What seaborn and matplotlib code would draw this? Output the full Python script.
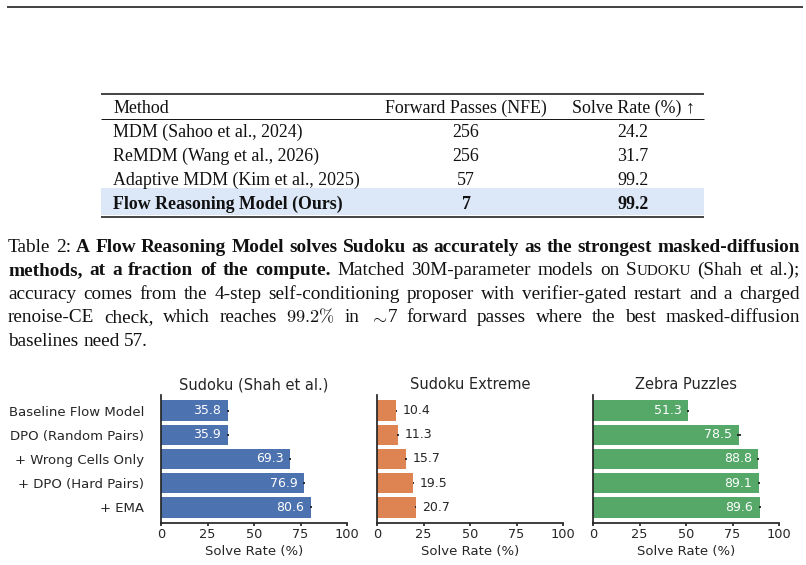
import numpy as np
import pandas as pd
import matplotlib
matplotlib.use("Agg")
import matplotlib.pyplot as plt
import seaborn as sns

# dati della tabella
table_header = ["Method", "Forward Passes (NFE)", "Solve Rate (%) ↑"]
table_methods = ["MDM (Sahoo et al., 2024)", "ReMDM (Wang et al., 2026)",
                 "Adaptive MDM (Kim et al., 2025)", "Flow Reasoning Model (Ours)"]
table_nfe = ["256", "256", "57", "7"]
table_solve = ["24.2", "31.7", "99.2", "99.2"]

# dati dei grafici a barre
variants = ["Baseline Flow Model", "DPO (Random Pairs)", "+ Wrong Cells Only",
            "+ DPO (Hard Pairs)", "+ EMA"]
panel_titles = ["Sudoku (Shah et al.)", "Sudoku Extreme", "Zebra Puzzles"]
sudoku = [35.8, 35.9, 69.3, 76.9, 80.6]
sudoku_extreme = [10.4, 11.3, 15.7, 19.5, 20.7]
zebra = [51.3, 78.5, 88.8, 89.1, 89.6]
sudoku_err = [0.5, 0.5, 0.7, 0.5, 0.6]
sudoku_extreme_err = [0.4, 0.4, 0.4, 0.4, 0.5]
zebra_err = [0.5, 1.0, 0.4, 0.5, 0.5]

# didascalia (una riga per lista, come nel riferimento)
caption_lines = [
    [("Table 2: ", "r"), ("A Flow Reasoning Model solves Sudoku as accurately as the strongest masked-diffusion", "b")],
    [("methods, at a fraction of the compute.", "b"), (" Matched 30M-parameter models on S", "r"),
     ("UDOKU", "sc"), (" (Shah et al.);", "r")],
    [("accuracy comes from the 4-step self-conditioning proposer with verifier-gated restart and a charged", "r")],
    [("renoise-CE check, which reaches ", "r"), (r"$99.2\%$", "m"), (" in ", "r"), (r"$\sim$", "m"),
     ("7 forward passes where the best masked-diffusion", "r")],
    [("baselines need 57.", "r")],
]

sns.set_theme(style="ticks")
plt.rcParams["mathtext.fontset"] = "cm"

fig = plt.figure(figsize=(8.06, 5.65), dpi=100)

# asse di sfondo in pixel per tabella e didascalia
bg = fig.add_axes([0, 0, 1, 1])
bg.set_xlim(0, 806)
bg.set_ylim(565, 0)
bg.axis("off")

serif = ["Liberation Serif", "DejaVu Serif"]
ink = "#111111"

# riga in alto della pagina
bg.plot([7, 803], [7, 7], color="#333333", lw=1.3, solid_capstyle="butt")

# tabella
tfs = 12.9
tx0, tx1 = 101, 704
bg.add_patch(plt.Rectangle((tx0, 187.5), tx1 - tx0, 27, color="#dce8f8", lw=0))
bg.plot([tx0, tx1], [93.5, 93.5], color=ink, lw=1.1, solid_capstyle="butt")
bg.plot([tx0, tx1], [118.7, 118.7], color=ink, lw=0.7, solid_capstyle="butt")
bg.plot([tx0, tx1], [216.5, 216.5], color=ink, lw=1.1, solid_capstyle="butt")

col_x = [113, 466, 633]
bg.text(col_x[0], 113, table_header[0], family=serif, size=tfs, color=ink, ha="left", va="baseline")
bg.text(col_x[1], 113, table_header[1], family=serif, size=tfs, color=ink, ha="center", va="baseline")
bg.text(col_x[2], 113, table_header[2], family=serif, size=tfs, color=ink, ha="center", va="baseline")
for i, (m, n, s) in enumerate(zip(table_methods, table_nfe, table_solve)):
    yb = 137 + 24 * i
    w = "bold" if i == len(table_methods) - 1 else "normal"
    bg.text(col_x[0], yb, m, family=serif, size=tfs, weight=w, color=ink, ha="left", va="baseline")
    bg.text(col_x[1], yb, n, family=serif, size=tfs, weight=w, color=ink, ha="center", va="baseline")
    bg.text(col_x[2], yb, s, family=serif, size=tfs, weight=w, color=ink, ha="center", va="baseline")

# didascalia giustificata
cfs = 13.9
renderer = fig.canvas.get_renderer()


def tokenize(segments):
    words, cur = [], []
    for s, style in segments:
        if style == "m":
            cur.append((s, style))
            continue
        pieces = s.split(" ")
        for i, p in enumerate(pieces):
            if i > 0 and cur:
                words.append(cur)
                cur = []
            if p:
                cur.append((p, style))
    if cur:
        words.append(cur)
    return words


def make_text(s, style, y):
    kw = dict(family=serif, size=cfs, color=ink, va="baseline", ha="left")
    if style == "b":
        kw["weight"] = "bold"
    if style == "sc":
        kw["size"] = cfs * 0.78
    if style == "m":
        kw["size"] = cfs * 0.95
    return bg.text(0, y, s, **kw)


x_left, x_right = 8, 800
for li, segs in enumerate(caption_lines):
    yb = 251.5 + 23.6 * li
    words = tokenize(segs)
    arts, widths = [], []
    for w in words:
        parts = []
        for s, style in w:
            t = make_text(s, style, yb)
            parts.append((t, t.get_window_extent(renderer).width))
        arts.append(parts)
        widths.append(sum(pw for _, pw in parts))
    if li < len(caption_lines) - 1:
        gap = (x_right - x_left - sum(widths)) / (len(words) - 1)
    else:
        gap = cfs * 100 / 72 * 0.25
    x = x_left
    for parts, wsum in zip(arts, widths):
        xx = x
        for t, pw in parts:
            t.set_x(xx)
            xx += pw
        x += wsum + gap

# grafici a barre
palette = sns.color_palette("deep")
panels = [(sudoku, sudoku_err, palette[0]),
          (sudoku_extreme, sudoku_extreme_err, palette[1]),
          (zebra, zebra_err, palette[2])]
lefts = [161, 377, 593]
text_c = "#262626"
for k, ((vals, errs, col), title) in enumerate(zip(panels, panel_titles)):
    ax = fig.add_axes([lefts[k] / 806, 1 - 523 / 565, 186 / 806, 128 / 565])
    df = pd.DataFrame({"variant": variants, "rate": vals})
    sns.barplot(data=df, x="rate", y="variant", ax=ax, color=col, saturation=1,
                width=0.85, linewidth=0)
    ax.errorbar(vals, np.arange(len(vals)), xerr=errs, fmt="none",
                ecolor="#222222", elinewidth=1.3, capsize=0, zorder=5)
    for i, v in enumerate(vals):
        if v > 30:
            ax.annotate(f"{v:.1f}", (v, i), xytext=(-4.7, 0), textcoords="offset points",
                        ha="right", va="center", color="white", fontsize=9)
        else:
            ax.annotate(f"{v:.1f}", (v, i), xytext=(4.7, 0), textcoords="offset points",
                        ha="left", va="center", color=text_c, fontsize=9)
    ax.set_xlim(0, 100)
    ax.set_ylim(4.65, -0.65)
    ax.set_xticks([0, 25, 50, 75, 100])
    ax.set_title(title, fontsize=10.5, color=text_c, pad=4)
    ax.set_xlabel("Solve Rate (%)", fontsize=9.5, color=text_c, labelpad=3)
    ax.set_ylabel("")
    ax.tick_params(axis="x", labelsize=9.3, length=2.5, pad=1, colors=text_c)
    ax.tick_params(axis="y", labelsize=9.5, length=0, pad=12, colors=text_c)
    if k > 0:
        ax.set_yticklabels([])
    sns.despine(ax=ax)

plt.savefig("out.png", dpi=100)
